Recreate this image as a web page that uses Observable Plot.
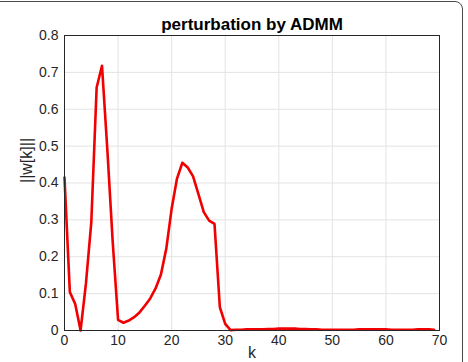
<!DOCTYPE html>
<html>
<head>
<meta charset="utf-8">
<script src="https://cdn.jsdelivr.net/npm/d3@7"></script>
<script src="https://cdn.jsdelivr.net/npm/@observablehq/plot@0.6"></script>
<style>
  html, body { margin: 0; padding: 0; background: #fff; }
  #wrap { position: relative; width: 468px; height: 362px; overflow: hidden; background: #fff; }
  #border { position: absolute; left: -20px; top: 1px; width: 483px; height: 420px; border: 1px solid #4a4a4a; border-radius: 8px; box-sizing: border-box; pointer-events: none; }
  #chart { position: absolute; left: 0; top: 0; }
</style>
</head>
<body>
<div id="wrap"><div id="chart"></div><div id="border"></div></div>
<script>
const title = "perturbation by ADMM";
const xLabel = "k";
const yLabel = "||w[k]||";
const xTicks = [0, 10, 20, 30, 40, 50, 60, 70];
const yTicks = [0, 0.1, 0.2, 0.3, 0.4, 0.5, 0.6, 0.7, 0.8];
const kValues = d3.range(0, 70);
const wNorm = [
  0.415, 0.104, 0.072, 0.0, 0.127, 0.293, 0.659, 0.718, 0.49, 0.24,
  0.029, 0.021, 0.027, 0.036, 0.049, 0.067, 0.087, 0.114, 0.152, 0.222,
  0.33, 0.412, 0.455, 0.442, 0.418, 0.37, 0.321, 0.298, 0.289, 0.063,
  0.018, 0.001, 0.002, 0.002, 0.003, 0.003, 0.003, 0.003, 0.004, 0.004,
  0.005, 0.005, 0.005, 0.005, 0.004, 0.004, 0.003, 0.003, 0.002, 0.002,
  0.002, 0.002, 0.002, 0.002, 0.002, 0.003, 0.003, 0.003, 0.003, 0.003,
  0.003, 0.002, 0.002, 0.002, 0.002, 0.002, 0.003, 0.003, 0.003, 0.002
];
const data = kValues.map((k, i) => ({k, w: wNorm[i]}));

const font = "'Liberation Sans', Arial, Helvetica, sans-serif";
const chart = Plot.plot({
  width: 468,
  height: 362,
  marginLeft: 64,
  marginRight: 29,
  marginTop: 35,
  marginBottom: 32,
  style: {fontFamily: font, background: "transparent", color: "#262626"},
  x: {domain: [0, 70]},
  y: {domain: [0, 0.8]},
  marks: [
    Plot.gridX(xTicks, {stroke: "#e3e3e3", strokeOpacity: 1}),
    Plot.gridY(yTicks, {stroke: "#e3e3e3", strokeOpacity: 1}),
    Plot.axisX(xTicks, {tickSize: 0, tickPadding: 5, fontSize: 14, label: null, fill: "#262626"}),
    Plot.axisY(yTicks, {tickSize: 0, tickPadding: 6, fontSize: 14, label: null, tickFormat: d => d === 0 ? "0" : d3.format(".1f")(d), fill: "#262626"}),
    Plot.line(data, {x: "k", y: "w", stroke: "#f00000", strokeWidth: 2.6, strokeLinejoin: "round"}),
    Plot.frame({stroke: "#262626", strokeWidth: 1}),
    Plot.text([title], {frameAnchor: "top", lineAnchor: "bottom", dy: -6, fontSize: 17, fontWeight: "bold", fill: "#000"}),
    Plot.text([yLabel], {frameAnchor: "left", dx: -38, rotate: -90, fontSize: 16, fill: "#262626"}),
    Plot.text([xLabel], {frameAnchor: "bottom", lineAnchor: "top", dy: 16, fontSize: 16, fill: "#262626"})
  ]
});
document.getElementById("chart").appendChild(chart);
</script>
</body>
</html>
